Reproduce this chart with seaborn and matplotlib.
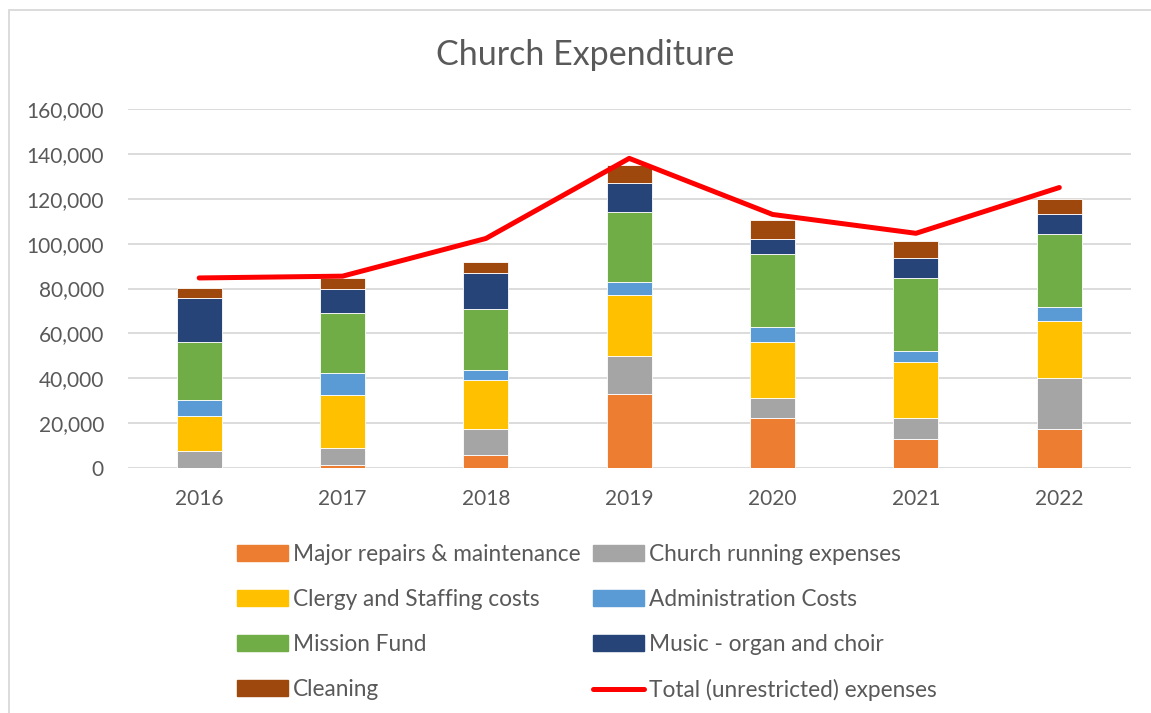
import numpy as np
import pandas as pd
import matplotlib
matplotlib.use("Agg")
import matplotlib.pyplot as plt
import matplotlib.patches as mpatches
from matplotlib.lines import Line2D
from matplotlib.ticker import FuncFormatter
import seaborn as sns

years = ["2016", "2017", "2018", "2019", "2020", "2021", "2022"]
major_repairs = [0, 1200, 5600, 33100, 22400, 13100, 17200]
church_running = [7500, 7900, 11600, 16900, 8900, 9400, 22900]
clergy_staffing = [15700, 23500, 22100, 26900, 24700, 24800, 25400]
administration = [7000, 9900, 4200, 6100, 6700, 4800, 6100]
mission_fund = [26000, 26400, 27500, 31000, 32700, 32700, 32500]
music = [19700, 10800, 15700, 13200, 6700, 8800, 9200]
cleaning = [4500, 4900, 4900, 7700, 8500, 7600, 6800]
total_unrestricted = [84700, 85500, 102300, 138000, 113000, 104600, 125000]

series = ["Major repairs & maintenance", "Church running expenses",
          "Clergy and Staffing costs", "Administration Costs",
          "Mission Fund", "Music - organ and choir", "Cleaning"]
values = [major_repairs, church_running, clergy_staffing, administration,
          mission_fund, music, cleaning]
colors = ["#ED7D31", "#A5A5A5", "#FFC000", "#5B9BD5",
          "#70AD47", "#264478", "#9E480E"]

df = pd.DataFrame(dict(zip(series, values)), index=years)

sns.set_style("white")
plt.rcParams['font.family'] = ['Lato', 'DejaVu Sans']
text_col = "#595959"

fig = plt.figure(figsize=(11.51, 7.13), dpi=100)
ax = fig.add_axes([127.5 / 1151, 1 - 468 / 713, (1131 - 127.5) / 1151, (468 - 109) / 713])

# stacked bars, one seaborn call per expense category
bottom = np.zeros(len(years))
for name, col in zip(series, colors):
    sns.barplot(x=df.index, y=df[name].values, bottom=bottom, color=col,
                saturation=1, width=0.314, edgecolor="white", linewidth=0.6,
                ax=ax, zorder=3)
    bottom += df[name].values

ax.plot(np.arange(len(years)), total_unrestricted, color="#FF0000", lw=3.6,
        solid_capstyle="round", solid_joinstyle="round", zorder=4)

ax.set_ylim(0, 160000)
ax.set_xlim(-0.5, len(years) - 0.5)
ax.set_yticks(np.arange(0, 160001, 20000))
ax.yaxis.set_major_formatter(FuncFormatter(lambda v, p: f"{int(v):,}"))
ax.grid(axis="y", color="#D9D9D9", lw=1.3, zorder=0)
ax.set_axisbelow(True)
for s in ax.spines.values():
    s.set_visible(False)
ax.tick_params(axis="y", length=0, pad=17, labelsize=15, labelcolor=text_col)
ax.tick_params(axis="x", length=0, pad=15, labelsize=15, labelcolor=text_col)
ax.set_xlabel("")
ax.set_ylabel("")

fig.text(0.508, 1 - 55 / 713, "Church Expenditure", ha="center", va="center",
         fontsize=24.5, color=text_col)

# chart border (left and top edges visible)
fig.add_artist(mpatches.Rectangle((9 / 1151, -0.2), 1.2, 1 - 10 / 713 + 0.2,
                                  transform=fig.transFigure, fill=False,
                                  edgecolor="#D9D9D9", lw=1.3))

patches = [mpatches.Patch(color=c, label=n) for n, c in zip(series, colors)]
line_h = Line2D([], [], color="#FF0000", lw=3.6, solid_capstyle="round",
                label="Total (unrestricted) expenses")
order = [patches[0], patches[2], patches[4], patches[6],
         patches[1], patches[3], patches[5], line_h]
leg = fig.legend(handles=order, labels=[h.get_label() for h in order],
                 loc="upper left", bbox_to_anchor=(237 / 1151, 1 - 544 / 713),
                 ncol=2, frameon=False, fontsize=16.3, handlelength=2.25,
                 handleheight=0.7, handletextpad=0.22, columnspacing=0.57,
                 labelspacing=1.06, borderpad=0, borderaxespad=0)
for t in leg.get_texts():
    t.set_color(text_col)

fig.savefig("out.png", dpi=100)
